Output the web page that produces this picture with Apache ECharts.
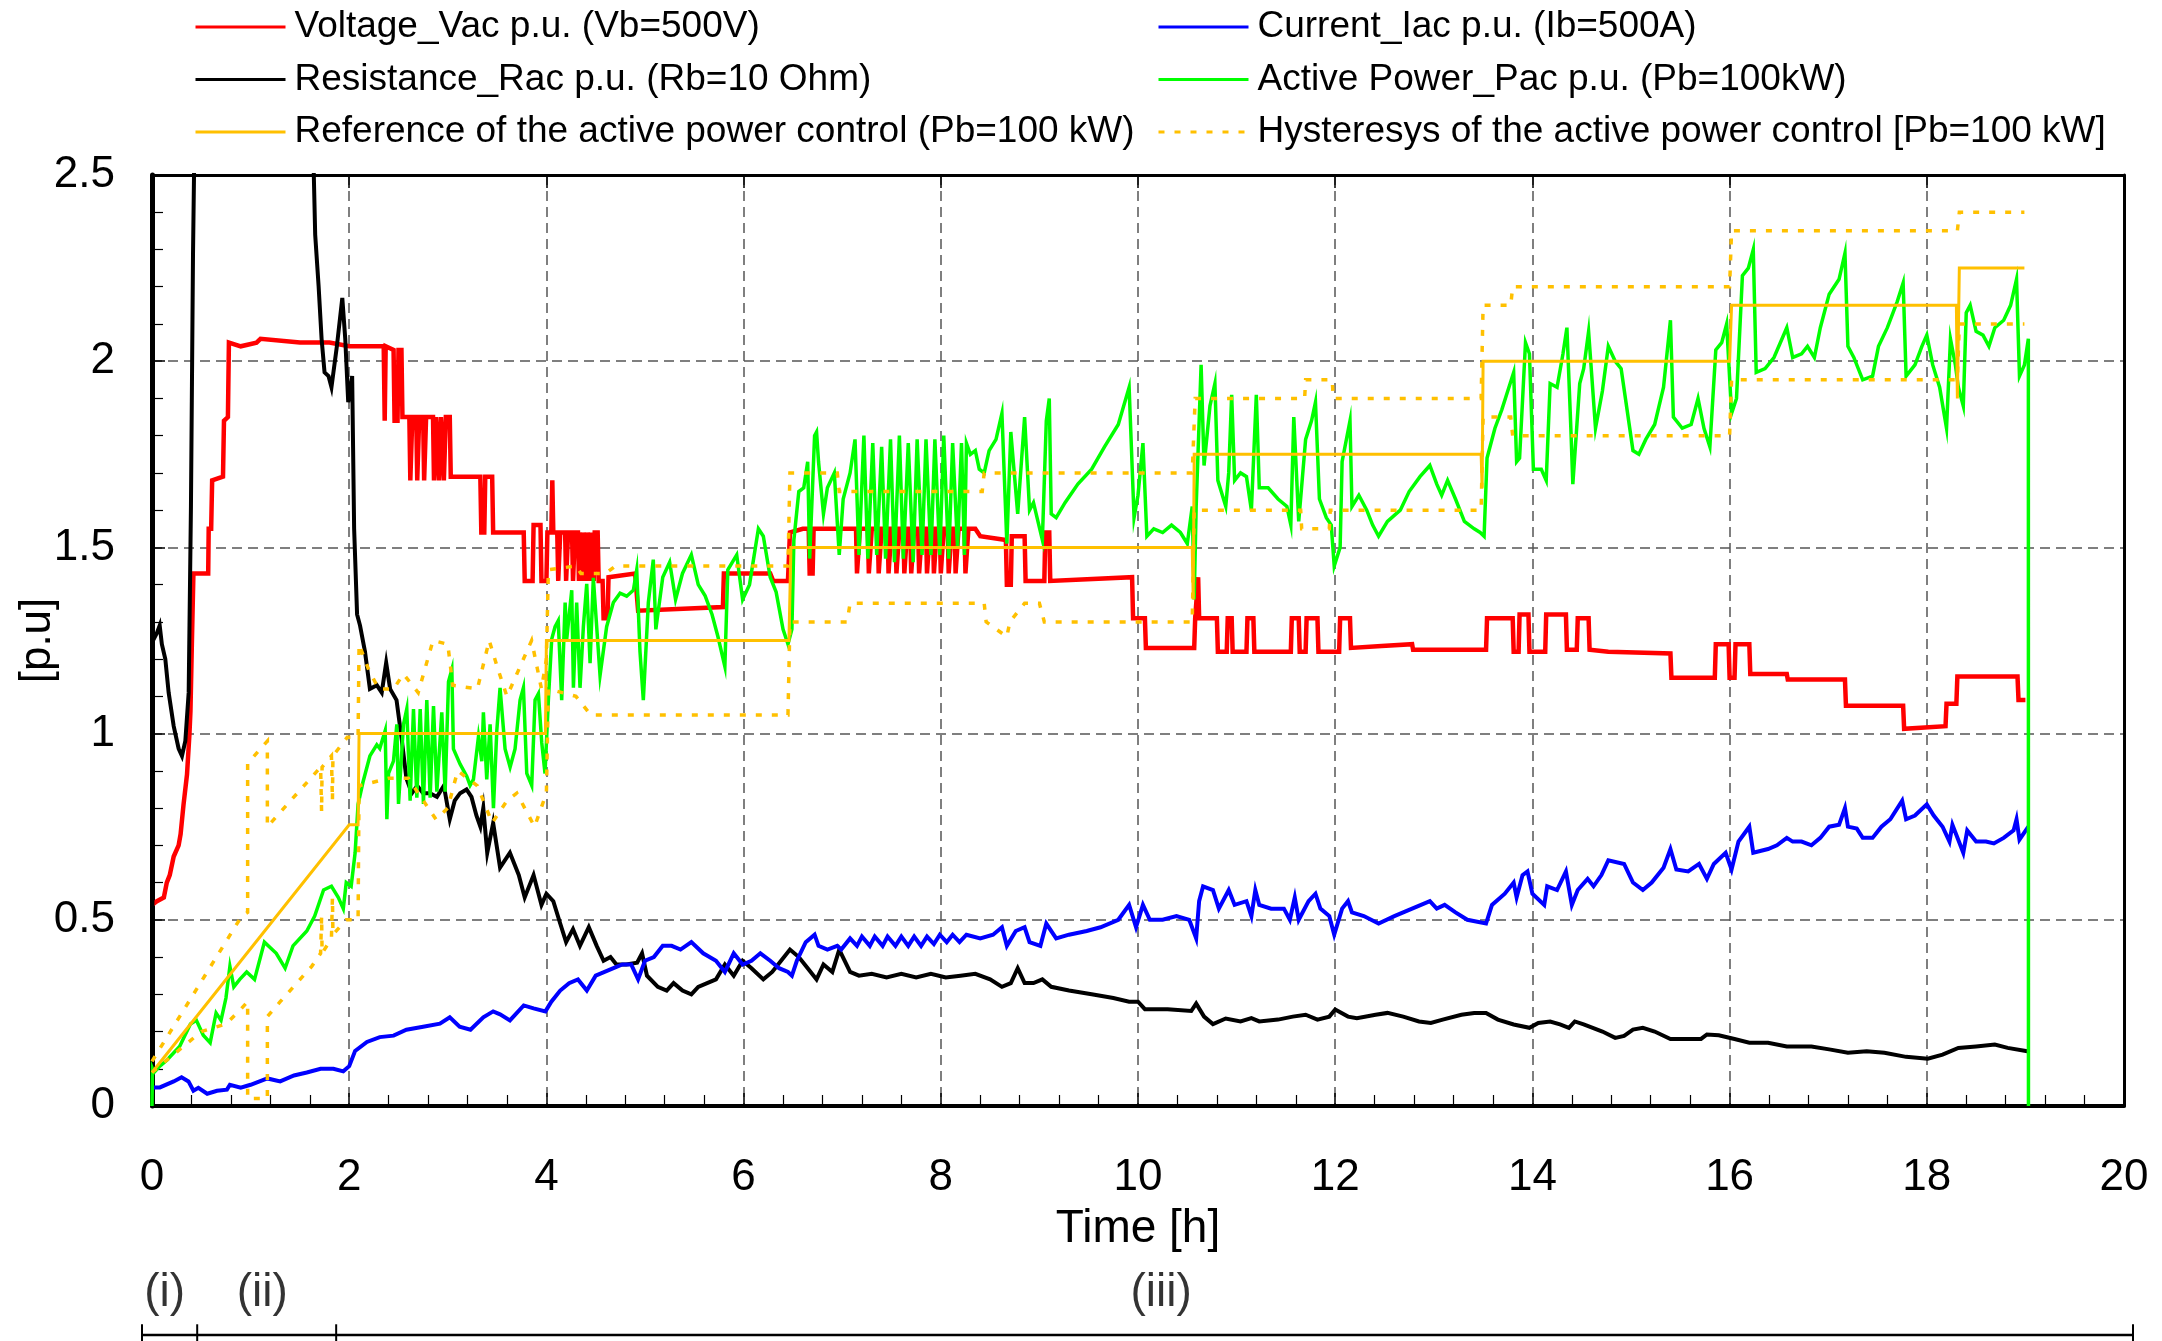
<!DOCTYPE html>
<html>
<head>
<meta charset="utf-8">
<script src="https://cdn.jsdelivr.net/npm/echarts/dist/echarts.min.js"></script>
<style>
  html, body { margin: 0; padding: 0; background: #ffffff; }
  #chart { width: 2162px; height: 1341px; }
</style>
</head>
<body>
<div id="chart"></div>
<script>
// Per-unit measurements of the AC load test, time in hours.
const seriesNames = [
  'Voltage_Vac p.u. (Vb=500V)',
  'Current_Iac p.u. (Ib=500A)',
  'Resistance_Rac p.u. (Rb=10 Ohm)',
  'Active Power_Pac p.u. (Pb=100kW)',
  'Reference of the active power control (Pb=100 kW)',
  'Hysteresys of the active power control [Pb=100 kW]'
];

const voltage = [
  [0,0.54],[0.05,0.55],[0.12,0.56],[0.15,0.60],[0.18,0.62],[0.22,0.67],[0.27,0.70],[0.29,0.73],
  [0.32,0.81],[0.355,0.89],[0.38,1.00],[0.39,1.06],[0.405,1.25],[0.42,1.43],[0.57,1.43],[0.575,1.55],
  [0.60,1.55],[0.61,1.68],[0.72,1.69],[0.73,1.84],[0.77,1.85],[0.78,2.05],[0.9,2.04],[1.06,2.05],
  [1.1,2.06],[1.5,2.05],[1.8,2.05],[2.0,2.04],[2.35,2.04],[2.36,1.84],[2.37,2.04],[2.45,2.03],
  [2.46,1.84],[2.49,1.84],[2.50,2.03],[2.53,2.03],[2.54,1.85],
  [2.61,1.85],[2.62,1.68],[2.635,1.68],[2.64,1.85],[2.68,1.85],[2.69,1.68],[2.70,1.68],[2.71,1.85],
  [2.75,1.85],[2.76,1.68],[2.775,1.68],[2.78,1.85],[2.85,1.85],[2.86,1.68],[2.87,1.68],[2.88,1.85],
  [2.90,1.85],[2.91,1.68],[2.92,1.68],[2.93,1.85],[2.95,1.85],[2.96,1.68],[2.97,1.68],[2.98,1.85],
  [3.02,1.85],[3.03,1.69],[3.33,1.69],[3.34,1.54],[3.37,1.54],[3.38,1.69],[3.45,1.69],[3.46,1.54],
  [3.77,1.54],[3.78,1.41],[3.86,1.41],[3.87,1.56],[3.94,1.56],[3.95,1.41],[4.0,1.41],[4.01,1.54],
  [4.05,1.54],[4.06,1.68],[4.07,1.54],
  [4.11,1.54],[4.12,1.41],[4.13,1.41],[4.14,1.54],[4.19,1.54],[4.20,1.41],[4.21,1.41],[4.22,1.54],
  [4.26,1.54],[4.27,1.41],[4.28,1.41],[4.29,1.54],[4.32,1.54],[4.33,1.41],[4.34,1.54],[4.36,1.54],
  [4.37,1.41],[4.38,1.54],[4.40,1.54],[4.41,1.41],[4.42,1.54],[4.44,1.54],[4.45,1.41],[4.46,1.54],
  [4.47,1.54],[4.48,1.41],[4.49,1.54],
  [4.52,1.54],[4.53,1.41],[4.57,1.41],[4.58,1.31],[4.62,1.31],[4.63,1.42],[4.9,1.43],[4.93,1.33],
  [5.79,1.34],[5.8,1.43],[6.27,1.43],[6.3,1.41],[6.45,1.41],[6.47,1.54],[6.6,1.55],
  [6.66,1.55],[6.67,1.43],[6.70,1.43],[6.71,1.55],
  [7.14,1.55],[7.15,1.43],[7.17,1.43],[7.18,1.55],[7.26,1.55],[7.27,1.43],[7.29,1.43],[7.30,1.55],
  [7.36,1.55],[7.37,1.43],[7.39,1.43],[7.40,1.55],[7.46,1.55],[7.47,1.43],[7.49,1.43],[7.50,1.55],
  [7.54,1.55],[7.55,1.43],[7.57,1.43],[7.58,1.55],[7.62,1.55],[7.63,1.43],[7.65,1.43],[7.66,1.55],
  [7.69,1.55],[7.70,1.43],[7.72,1.43],[7.73,1.55],[7.77,1.55],[7.78,1.43],[7.80,1.43],[7.81,1.55],
  [7.85,1.55],[7.86,1.43],[7.88,1.43],[7.89,1.55],[7.92,1.55],[7.93,1.43],[7.95,1.43],[7.96,1.55],
  [7.99,1.55],[8.00,1.43],[8.02,1.43],[8.03,1.55],[8.07,1.55],[8.08,1.43],[8.10,1.43],[8.11,1.55],
  [8.14,1.55],[8.15,1.43],[8.17,1.43],[8.18,1.55],[8.24,1.55],[8.25,1.43],[8.27,1.43],[8.28,1.55],
  [8.35,1.55],[8.4,1.53],[8.66,1.52],[8.67,1.40],[8.71,1.40],[8.72,1.53],[8.85,1.53],[8.86,1.41],
  [9.05,1.41],[9.06,1.54],[9.1,1.54],[9.11,1.41],[9.94,1.42],[9.95,1.31],[10.07,1.31],[10.08,1.23],
  [10.57,1.23],[10.58,1.31],[10.6,1.31],[10.61,1.42],[10.62,1.31],[10.8,1.31],[10.81,1.22],[10.9,1.22],
  [10.91,1.31],[10.95,1.31],[10.96,1.22],[11.1,1.22],[11.11,1.31],[11.17,1.31],[11.18,1.22],[11.55,1.22],
  [11.56,1.31],[11.63,1.31],[11.64,1.22],[11.7,1.22],[11.71,1.31],[11.82,1.31],[11.83,1.22],[12.04,1.22],
  [12.05,1.31],[12.15,1.31],[12.16,1.23],[12.47,1.235],[12.48,1.24],[12.78,1.24],[12.79,1.225],[13.53,1.225],
  [13.54,1.31],[13.8,1.31],[13.81,1.22],[13.86,1.22],[13.87,1.32],[13.96,1.32],[13.97,1.22],[14.13,1.22],
  [14.14,1.32],[14.34,1.32],[14.35,1.225],[14.45,1.225],[14.46,1.31],[14.57,1.31],[14.58,1.225],[14.77,1.22],
  [15.4,1.215],[15.41,1.15],[15.85,1.15],[15.86,1.24],[15.99,1.24],[16.0,1.15],[16.05,1.15],[16.06,1.24],
  [16.2,1.24],[16.21,1.16],[16.58,1.16],[16.59,1.145],[17.17,1.145],[17.18,1.075],[17.76,1.075],[17.77,1.013],
  [18.19,1.02],[18.2,1.08],[18.3,1.08],[18.31,1.153],[18.92,1.153],[18.93,1.09],[19.0,1.09]
];

const current = [
  [0,0.05],[0.08,0.05],[0.22,0.066],[0.3,0.077],[0.37,0.066],[0.42,0.041],[0.47,0.049],[0.56,0.033],
  [0.66,0.041],[0.76,0.044],[0.79,0.057],[0.9,0.049],[1.0,0.057],[1.17,0.074],[1.3,0.066],[1.44,0.082],
  [1.57,0.09],[1.71,0.10],[1.84,0.10],[1.94,0.093],[2.0,0.107],[2.06,0.148],[2.18,0.172],[2.31,0.185],
  [2.45,0.189],[2.58,0.205],[2.75,0.213],[2.92,0.221],[3.02,0.238],[3.12,0.213],[3.23,0.205],[3.36,0.238],
  [3.46,0.254],[3.53,0.246],[3.63,0.23],[3.77,0.27],[3.87,0.262],[3.99,0.254],[4.05,0.28],[4.14,0.31],
  [4.23,0.33],[4.32,0.34],[4.41,0.31],[4.5,0.35],[4.59,0.36],[4.68,0.37],[4.77,0.38],[4.86,0.38],
  [4.93,0.34],[5.0,0.39],[5.09,0.40],[5.18,0.43],[5.27,0.43],[5.36,0.42],[5.47,0.44],[5.59,0.41],
  [5.72,0.39],[5.81,0.36],[5.9,0.41],[5.99,0.38],[6.08,0.39],[6.17,0.41],[6.27,0.39],[6.36,0.37],
  [6.45,0.36],[6.49,0.35],[6.54,0.39],[6.63,0.44],[6.72,0.46],[6.76,0.43],[6.85,0.42],[6.95,0.43],
  [6.99,0.42],[7.08,0.45],[7.15,0.43],[7.2,0.455],[7.28,0.43],[7.33,0.455],[7.41,0.43],[7.46,0.455],
  [7.54,0.43],[7.6,0.455],[7.67,0.43],[7.73,0.455],[7.8,0.43],[7.86,0.455],[7.93,0.435],[7.99,0.46],
  [8.06,0.44],[8.12,0.46],[8.19,0.44],[8.26,0.46],[8.4,0.45],[8.53,0.46],[8.62,0.48],[8.67,0.43],
  [8.76,0.47],[8.85,0.48],[8.9,0.44],[9.01,0.43],[9.07,0.49],[9.17,0.45],[9.3,0.46],[9.48,0.47],
  [9.62,0.48],[9.8,0.50],[9.91,0.54],[9.98,0.48],[10.05,0.54],[10.12,0.50],[10.25,0.50],[10.39,0.51],
  [10.52,0.50],[10.59,0.45],[10.62,0.55],[10.66,0.59],[10.76,0.58],[10.82,0.53],[10.92,0.58],[10.98,0.54],
  [11.1,0.55],[11.15,0.51],[11.19,0.58],[11.23,0.54],[11.35,0.53],[11.48,0.53],[11.54,0.50],[11.59,0.56],
  [11.63,0.50],[11.73,0.55],[11.8,0.57],[11.85,0.53],[11.94,0.51],[11.99,0.46],[12.07,0.53],[12.13,0.55],
  [12.17,0.52],[12.29,0.51],[12.44,0.49],[12.6,0.51],[12.78,0.53],[12.96,0.55],[13.03,0.53],[13.11,0.54],
  [13.22,0.52],[13.34,0.50],[13.53,0.49],[13.59,0.54],[13.72,0.57],[13.81,0.60],[13.84,0.56],[13.9,0.62],
  [13.95,0.63],[14.0,0.57],[14.12,0.54],[14.15,0.59],[14.25,0.58],[14.34,0.63],[14.4,0.54],[14.46,0.58],
  [14.56,0.61],[14.62,0.59],[14.7,0.62],[14.77,0.66],[14.93,0.65],[15.02,0.60],[15.12,0.58],[15.21,0.60],
  [15.33,0.64],[15.4,0.69],[15.46,0.635],[15.58,0.63],[15.69,0.65],[15.77,0.61],[15.84,0.65],[15.96,0.68],
  [16.02,0.635],[16.09,0.71],[16.2,0.75],[16.24,0.68],[16.39,0.69],[16.48,0.70],[16.58,0.72],[16.64,0.71],
  [16.73,0.71],[16.83,0.70],[16.92,0.72],[17.01,0.75],[17.11,0.755],[17.17,0.80],[17.2,0.75],[17.29,0.745],
  [17.35,0.72],[17.45,0.72],[17.54,0.75],[17.63,0.77],[17.75,0.82],[17.79,0.77],[17.88,0.78],[18.0,0.81],
  [18.07,0.78],[18.16,0.75],[18.23,0.71],[18.26,0.755],[18.37,0.68],[18.41,0.74],[18.5,0.71],[18.6,0.71],
  [18.68,0.705],[18.78,0.72],[18.88,0.74],[18.91,0.77],[18.94,0.715],[19.03,0.75]
];

// Values above 2.5 leave the plot and are clipped by the grid.
const resistance = [
  [0,0],[0.01,1.25],[0.05,1.27],[0.078,1.29],[0.1,1.24],[0.135,1.20],[0.169,1.11],[0.22,1.02],
  [0.27,0.96],[0.304,0.94],[0.338,0.98],[0.372,1.11],[0.395,1.61],[0.416,2.29],[0.46,3.2],[1.58,3.2],
  [1.655,2.34],[1.69,2.2],[1.72,2.06],[1.75,1.97],[1.79,1.96],[1.82,1.93],[1.875,2.04],[1.93,2.17],
  [1.96,2.06],[1.99,1.89],[2.03,1.96],[2.05,1.55],[2.08,1.32],[2.11,1.29],[2.16,1.22],[2.21,1.12],
  [2.28,1.13],[2.33,1.11],[2.375,1.19],[2.415,1.12],[2.48,1.09],[2.53,0.99],[2.58,0.88],[2.635,0.84],
  [2.69,0.86],[2.75,0.84],[2.82,0.84],[2.89,0.83],[2.96,0.86],[3.02,0.77],[3.07,0.82],[3.125,0.84],
  [3.19,0.85],[3.24,0.83],[3.29,0.78],[3.33,0.75],[3.36,0.80],[3.4,0.68],[3.46,0.76],[3.53,0.64],
  [3.63,0.68],[3.72,0.62],[3.78,0.56],[3.87,0.62],[3.95,0.54],[4.0,0.57],[4.07,0.55],[4.14,0.49],
  [4.2,0.44],[4.27,0.475],[4.34,0.43],[4.43,0.48],[4.51,0.43],[4.58,0.39],[4.65,0.40],[4.71,0.38],
  [4.81,0.38],[4.92,0.385],[4.97,0.41],[5.02,0.35],[5.13,0.32],[5.22,0.31],[5.29,0.33],[5.38,0.31],
  [5.47,0.30],[5.54,0.32],[5.63,0.33],[5.72,0.34],[5.81,0.38],[5.9,0.35],[5.99,0.39],[6.08,0.37],
  [6.2,0.34],[6.29,0.36],[6.38,0.39],[6.47,0.42],[6.56,0.40],[6.65,0.37],[6.74,0.34],[6.81,0.38],
  [6.9,0.36],[6.97,0.42],[7.08,0.36],[7.17,0.35],[7.3,0.355],[7.45,0.345],[7.6,0.355],[7.75,0.345],
  [7.9,0.355],[8.05,0.345],[8.2,0.35],[8.35,0.355],[8.5,0.34],[8.62,0.32],[8.71,0.33],[8.78,0.37],
  [8.85,0.33],[8.94,0.33],[9.03,0.34],[9.12,0.32],[9.3,0.31],[9.53,0.30],[9.75,0.29],[9.91,0.28],
  [10.0,0.28],[10.07,0.26],[10.3,0.26],[10.54,0.255],[10.59,0.275],[10.67,0.24],[10.76,0.22],[10.89,0.235],
  [11.04,0.227],[11.15,0.236],[11.23,0.227],[11.42,0.232],[11.57,0.24],[11.7,0.245],[11.82,0.232],[11.94,0.24],
  [12.0,0.259],[12.13,0.24],[12.22,0.236],[12.41,0.245],[12.53,0.25],[12.69,0.24],[12.85,0.227],[12.97,0.223],
  [13.09,0.232],[13.28,0.245],[13.41,0.25],[13.53,0.25],[13.65,0.232],[13.81,0.219],[13.97,0.21],[14.06,0.223],
  [14.18,0.227],[14.28,0.219],[14.37,0.21],[14.43,0.227],[14.52,0.219],[14.71,0.20],[14.84,0.183],[14.93,0.188],
  [15.02,0.205],[15.12,0.21],[15.24,0.20],[15.4,0.18],[15.58,0.18],[15.71,0.18],[15.77,0.192],[15.89,0.19],
  [16.05,0.18],[16.2,0.17],[16.39,0.17],[16.58,0.16],[16.83,0.16],[17.01,0.152],[17.2,0.143],[17.39,0.147],
  [17.57,0.143],[17.79,0.132],[18.01,0.127],[18.16,0.138],[18.32,0.156],[18.5,0.16],[18.69,0.165],[18.82,0.156],
  [19.02,0.147]
];

const activePower = [
  [0,0],[0.005,0.10],[0.02,0.09],[0.08,0.107],[0.15,0.123],[0.28,0.16],[0.39,0.22],[0.45,0.23],
  [0.52,0.19],[0.59,0.17],[0.65,0.25],[0.7,0.23],[0.75,0.29],[0.79,0.375],[0.83,0.32],[0.89,0.34],
  [0.96,0.36],[1.04,0.34],[1.14,0.44],[1.26,0.41],[1.35,0.37],[1.43,0.43],[1.57,0.47],[1.65,0.51],
  [1.74,0.58],[1.82,0.59],[1.89,0.56],[1.94,0.53],[1.97,0.60],[2.02,0.59],[2.06,0.68],[2.09,0.81],
  [2.14,0.87],[2.21,0.94],[2.28,0.97],[2.31,0.96],[2.365,1.008],[2.382,0.77],[2.399,0.893],[2.449,0.926],
  [2.483,1.025],[2.5,0.811],[2.551,1.025],[2.584,1.066],[2.618,0.82],[2.652,1.066],[2.686,0.828],[2.72,1.066],
  [2.753,0.811],[2.787,1.09],[2.821,0.828],[2.855,1.074],[2.889,0.844],[2.939,1.057],[2.973,0.844],[3.007,1.139],
  [3.041,1.172],[3.057,0.959],[3.125,0.918],[3.193,0.885],[3.226,0.861],[3.26,0.877],[3.311,0.992],[3.345,0.926],
  [3.361,1.057],[3.395,0.877],[3.429,1.025],[3.463,0.80],[3.497,1.008],[3.53,1.123],[3.581,0.959],[3.632,0.91],
  [3.682,0.959],[3.733,1.09],[3.767,1.123],[3.801,0.893],[3.851,0.861],[3.885,1.09],[3.919,1.107],[3.953,0.975],
  [3.986,0.893],[4.02,1.09],[4.054,1.254],[4.088,1.287],[4.12,1.303],[4.155,1.09],[4.19,1.352],[4.206,1.254],
  [4.257,1.385],[4.274,1.123],[4.307,1.352],[4.341,1.123],[4.375,1.287],[4.409,1.402],[4.443,1.189],[4.476,1.418],
  [4.544,1.156],[4.611,1.287],[4.679,1.352],[4.747,1.377],[4.814,1.369],[4.882,1.385],[4.916,1.44],[4.949,1.221],
  [4.983,1.09],[5.034,1.352],[5.084,1.467],[5.11,1.28],[5.18,1.42],[5.25,1.46],[5.31,1.36],[5.38,1.43],
  [5.47,1.48],[5.54,1.40],[5.61,1.37],[5.68,1.32],[5.74,1.26],[5.81,1.18],[5.84,1.44],[5.93,1.48],
  [5.99,1.36],[6.06,1.40],[6.15,1.55],[6.2,1.53],[6.27,1.42],[6.33,1.38],[6.4,1.28],[6.45,1.24],
  [6.49,1.28],[6.51,1.52],[6.56,1.65],[6.61,1.66],[6.65,1.73],[6.67,1.47],[6.72,1.80],[6.74,1.81],
  [6.76,1.73],[6.81,1.59],[6.85,1.66],[6.92,1.70],[6.97,1.48],[7.01,1.63],[7.08,1.70],[7.13,1.79],
  [7.17,1.48],[7.22,1.80],[7.26,1.47],[7.31,1.78],[7.35,1.48],[7.4,1.77],[7.44,1.47],[7.49,1.79],
  [7.53,1.46],[7.58,1.80],[7.62,1.47],[7.67,1.78],[7.72,1.46],[7.76,1.79],[7.81,1.48],[7.85,1.79],
  [7.9,1.48],[7.94,1.79],[7.99,1.48],[8.03,1.80],[8.08,1.47],[8.12,1.78],[8.17,1.50],[8.21,1.78],
  [8.24,1.48],[8.26,1.78],[8.3,1.75],[8.35,1.76],[8.39,1.71],[8.44,1.70],[8.49,1.76],[8.56,1.79],
  [8.62,1.86],[8.67,1.51],[8.71,1.81],[8.78,1.59],[8.85,1.85],[8.9,1.60],[8.94,1.62],[9.03,1.52],
  [9.07,1.84],[9.1,1.90],[9.12,1.59],[9.17,1.58],[9.26,1.62],[9.39,1.67],[9.53,1.71],[9.66,1.77],
  [9.8,1.83],[9.91,1.93],[9.96,1.58],[10.0,1.64],[10.05,1.78],[10.09,1.53],[10.16,1.55],[10.25,1.54],
  [10.34,1.56],[10.43,1.54],[10.5,1.51],[10.55,1.61],[10.57,1.36],[10.59,1.61],[10.64,1.99],[10.67,1.72],
  [10.73,1.88],[10.78,1.94],[10.81,1.68],[10.89,1.61],[10.92,1.70],[10.95,1.91],[10.98,1.68],[11.04,1.70],
  [11.1,1.69],[11.15,1.60],[11.2,1.91],[11.23,1.66],[11.32,1.66],[11.42,1.63],[11.51,1.61],[11.55,1.56],
  [11.58,1.85],[11.63,1.57],[11.7,1.79],[11.76,1.84],[11.8,1.89],[11.84,1.63],[11.91,1.58],[11.96,1.56],
  [11.99,1.45],[12.05,1.50],[12.07,1.73],[12.15,1.84],[12.17,1.61],[12.24,1.64],[12.32,1.60],[12.38,1.56],
  [12.44,1.53],[12.53,1.57],[12.66,1.60],[12.75,1.65],[12.86,1.69],[12.96,1.72],[13.03,1.67],[13.08,1.64],
  [13.14,1.68],[13.22,1.63],[13.31,1.57],[13.41,1.55],[13.47,1.54],[13.51,1.53],[13.54,1.74],[13.62,1.82],
  [13.69,1.87],[13.75,1.92],[13.81,1.97],[13.84,1.73],[13.87,1.74],[13.93,2.05],[13.97,2.02],[14.01,1.71],
  [14.09,1.71],[14.14,1.68],[14.18,1.94],[14.25,1.93],[14.31,2.02],[14.35,2.09],[14.39,1.82],[14.41,1.67],
  [14.48,1.94],[14.52,1.98],[14.57,2.08],[14.64,1.82],[14.71,1.92],[14.77,2.04],[14.84,2.00],[14.9,1.98],
  [15.02,1.76],[15.08,1.75],[15.15,1.79],[15.24,1.83],[15.33,1.93],[15.4,2.11],[15.43,1.85],[15.52,1.82],
  [15.61,1.83],[15.68,1.90],[15.74,1.82],[15.8,1.77],[15.86,2.03],[15.92,2.05],[15.97,2.10],[16.02,1.86],
  [16.07,1.90],[16.13,2.23],[16.19,2.25],[16.24,2.30],[16.27,1.97],[16.36,1.98],[16.45,2.01],[16.58,2.09],
  [16.64,2.01],[16.73,2.02],[16.79,2.04],[16.86,2.01],[16.92,2.09],[17.01,2.18],[17.11,2.22],[17.17,2.29],
  [17.2,2.04],[17.26,2.01],[17.35,1.95],[17.45,1.96],[17.51,2.04],[17.6,2.09],[17.7,2.16],[17.76,2.21],
  [17.79,1.96],[17.88,1.99],[17.95,2.04],[18.0,2.07],[18.06,1.99],[18.13,1.93],[18.2,1.82],[18.24,2.06],
  [18.29,1.99],[18.32,1.93],[18.37,1.88],[18.4,2.13],[18.44,2.15],[18.5,2.08],[18.57,2.07],[18.63,2.04],
  [18.69,2.09],[18.78,2.11],[18.85,2.15],[18.91,2.22],[18.94,1.96],[18.99,1.99],[19.03,2.06],[19.031,0]
];

const powerReference = [
  [0,0.09],[2.0,0.755],[2.09,0.755],[2.1,1.0],[3.99,1.0],[4.0,1.25],[6.46,1.25],[6.48,1.5],
  [10.55,1.5],[10.56,1.36],[10.57,1.75],[13.48,1.75],[13.49,1.66],[13.5,2.0],[16.0,2.0],[16.02,2.15],
  [18.3,2.15],[18.31,1.9],[18.33,2.25],[18.99,2.25]
];

const hysteresisUpper = [
  [0,0.12],[0.91,0.51],[0.97,0.52],[0.97,0.92],[1.17,0.98],[1.17,0.75],[1.71,0.91],[1.72,0.79],
  [1.725,0.91],[1.82,0.94],[1.83,0.82],[1.835,0.94],[1.98,0.99],[2.09,0.99],[2.1,1.24],[2.2,1.17],
  [2.3,1.12],[2.45,1.12],[2.55,1.16],[2.7,1.11],[2.85,1.25],[3.0,1.24],[3.05,1.13],[3.3,1.12],
  [3.42,1.25],[3.5,1.18],[3.6,1.10],[3.7,1.16],[3.85,1.25],[3.95,1.12],[4.0,1.2],[4.02,1.44],
  [4.3,1.45],[4.35,1.43],[4.6,1.43],[4.7,1.45],[6.45,1.45],[6.47,1.70],[6.95,1.70],[6.97,1.65],
  [8.42,1.65],[8.44,1.70],[10.55,1.70],[10.58,1.90],[11.69,1.90],[11.7,1.95],[11.97,1.95],[11.98,1.90],
  [13.48,1.90],[13.5,2.15],[13.78,2.15],[13.8,2.20],[16.0,2.20],[16.02,2.35],[18.31,2.35],[18.33,2.40],
  [18.99,2.40]
];

const hysteresisLower = [
  [0,0.09],[0.5,0.20],[0.75,0.22],[0.9,0.26],[0.97,0.28],[0.97,0.02],[1.17,0.02],[1.17,0.24],
  [1.3,0.28],[1.62,0.375],[1.71,0.41],[1.72,0.51],[1.725,0.41],[1.82,0.45],[1.83,0.56],[1.835,0.46],
  [1.97,0.50],[2.09,0.50],[2.1,0.86],[2.4,0.88],[2.6,0.88],[2.7,0.84],[2.88,0.77],[3.0,0.80],
  [3.1,0.90],[3.3,0.86],[3.45,0.76],[3.6,0.82],[3.7,0.84],[3.88,0.75],[4.0,0.84],[4.02,1.12],
  [4.3,1.10],[4.45,1.05],[6.45,1.05],[6.47,1.30],[7.05,1.30],[7.08,1.35],[8.44,1.35],[8.46,1.30],
  [8.67,1.26],[8.7,1.30],[8.85,1.35],[9.0,1.35],[9.05,1.30],[10.55,1.30],[10.57,1.60],[11.65,1.60],
  [11.66,1.55],[11.94,1.55],[11.95,1.60],[13.48,1.60],[13.5,1.85],[13.78,1.85],[13.8,1.80],[16.0,1.80],
  [16.02,1.95],[18.31,1.95],[18.33,2.10],[18.99,2.10]
];

// Test phases drawn under the time axis.
const phaseBounds = [-0.1, 0.46, 1.87, 20.1];
const phaseNames = ['(i)', '(ii)', '(iii)'];
const phaseLabelTimes = [0.13, 1.12, 10.24];

const yTicks = { min: 0, max: 2.5, step: 0.5 };
const xTicks = { min: 0, max: 20, step: 2 };

const FONT = '"Liberation Sans", Arial, Helvetica, sans-serif';
const C = {
  red: '#ff0000', blue: '#0000ff', black: '#000000', green: '#00ff00', yellow: '#ffc000', grid: '#555555'
};

function lineSeries(name, data, color, width, dash) {
  return {
    name: name, type: 'line', data: data, showSymbol: false, symbol: 'none',
    xAxisIndex: 0, yAxisIndex: 0, animation: false,
    lineStyle: { color: color, width: width, type: dash || 'solid', join: 'miter' },
    itemStyle: { color: color }
  };
}

const series = [
  lineSeries(seriesNames[0], voltage, C.red, 4.5),
  lineSeries(seriesNames[2], resistance, C.black, 4),
  lineSeries(seriesNames[1], current, C.blue, 4),
  lineSeries(seriesNames[3], activePower, C.green, 3.5),
  lineSeries(seriesNames[4], powerReference, C.yellow, 3),
  lineSeries(seriesNames[5], hysteresisUpper, C.yellow, 3.5, [6, 10]),
  lineSeries(seriesNames[5], hysteresisLower, C.yellow, 3.5, [6, 10])
];

// Phase bar: a long rule with short end marks and the phase names above it.
const PHASE_RULE_Y = 0.08, PHASE_MARK_TOP = 0.22, PHASE_LABEL_Y = 0.63;
series.push({
  type: 'line', xAxisIndex: 2, yAxisIndex: 2, silent: true, animation: false,
  symbol: 'none', data: [[phaseBounds[0], PHASE_RULE_Y], [phaseBounds[phaseBounds.length - 1], PHASE_RULE_Y]],
  lineStyle: { color: '#000', width: 2.5 }
});
phaseBounds.forEach(function (b) {
  series.push({
    type: 'line', xAxisIndex: 2, yAxisIndex: 2, silent: true, animation: false, symbol: 'none',
    data: [[b, 0], [b, PHASE_MARK_TOP]], lineStyle: { color: '#000', width: 2 }
  });
});
series.push({
  type: 'scatter', xAxisIndex: 2, yAxisIndex: 2, silent: true, animation: false,
  symbolSize: 1, itemStyle: { color: 'rgba(0,0,0,0)' },
  data: phaseLabelTimes.map(function (t, i) {
    return { value: [t, PHASE_LABEL_Y], name: phaseNames[i] };
  }),
  label: { show: true, position: 'inside', formatter: '{b}', color: '#000', fontSize: 46, fontFamily: FONT }
});

const legendText = { color: '#000', fontSize: 37, fontFamily: FONT, lineHeight: 42, padding: [0, 0, 0, 4] };
const legendCommon = {
  orient: 'vertical', top: 1, itemWidth: 90, itemHeight: 14, itemGap: 10.5,
  textStyle: legendText, selectedMode: false,
  itemStyle: { opacity: 0 },
  lineStyle: { width: 3 }
};

const option = {
  backgroundColor: '#ffffff',
  animation: false,
  legend: [
    Object.assign({ left: 189, data: [seriesNames[0], seriesNames[2], seriesNames[4]] }, legendCommon),
    Object.assign({ left: 1152, data: [seriesNames[1], seriesNames[3], seriesNames[5]] }, legendCommon)
  ],
  grid: [
    { left: 152, right: 38, top: 175, bottom: 235, outerBoundsMode: 'none', containLabel: false },
    { left: 142, right: 29, top: 1265, bottom: 0, outerBoundsMode: 'none', containLabel: false }
  ],
  xAxis: [
    {
      type: 'value', gridIndex: 0, position: 'bottom', min: xTicks.min, max: xTicks.max, interval: xTicks.step,
      name: 'Time [h]', nameLocation: 'middle', nameGap: 100, nameMoveOverlap: false,
      nameTextStyle: { color: '#000', fontSize: 46, fontFamily: FONT },
      axisLine: { show: true, onZero: false, lineStyle: { color: '#000', width: 4 } },
      axisTick: { show: true, inside: true, length: 13, lineStyle: { color: '#000', width: 1.5 } },
      minorTick: { show: true, splitNumber: 5, length: 11, lineStyle: { color: '#000', width: 1.2 } },
      axisLabel: { color: '#000', fontSize: 44, fontFamily: FONT, margin: 50 },
      splitLine: { show: true, lineStyle: { color: C.grid, width: 1.5, type: [10, 6] } }
    },
    {
      type: 'value', gridIndex: 0, position: 'top', min: xTicks.min, max: xTicks.max, interval: xTicks.step,
      axisLine: { show: true, onZero: false, lineStyle: { color: '#000', width: 3 } },
      axisTick: { show: true, inside: true, length: 13, lineStyle: { color: '#000', width: 1.5 } },
      axisLabel: { show: false }, splitLine: { show: false }
    },
    {
      type: 'value', gridIndex: 1, min: phaseBounds[0], max: phaseBounds[phaseBounds.length - 1], show: false
    }
  ],
  yAxis: [
    {
      type: 'value', gridIndex: 0, position: 'left', min: yTicks.min, max: yTicks.max, interval: yTicks.step,
      name: '[p.u]', nameLocation: 'middle', nameGap: 92, nameMoveOverlap: false,
      nameTextStyle: { color: '#000', fontSize: 44, fontFamily: FONT },
      axisLine: { show: true, onZero: false, lineStyle: { color: '#000', width: 5 } },
      axisTick: { show: true, inside: true, length: 13, lineStyle: { color: '#000', width: 1.5 } },
      minorTick: { show: true, splitNumber: 5, length: 11, lineStyle: { color: '#000', width: 1.2 } },
      axisLabel: { color: '#000', fontSize: 44, fontFamily: FONT, margin: 37 },
      splitLine: { show: true, lineStyle: { color: C.grid, width: 1.5, type: [10, 6] } }
    },
    {
      type: 'value', gridIndex: 0, position: 'right', min: yTicks.min, max: yTicks.max, interval: yTicks.step,
      axisLine: { show: true, onZero: false, lineStyle: { color: '#000', width: 3 } },
      axisTick: { show: false }, axisLabel: { show: false }, splitLine: { show: false }
    },
    { type: 'value', gridIndex: 1, min: 0, max: 1, show: false }
  ],
  series: series
};

const chart = echarts.init(document.getElementById('chart'), null, { renderer: 'canvas', width: 2162, height: 1341 });
chart.setOption(option);
</script>
</body>
</html>
